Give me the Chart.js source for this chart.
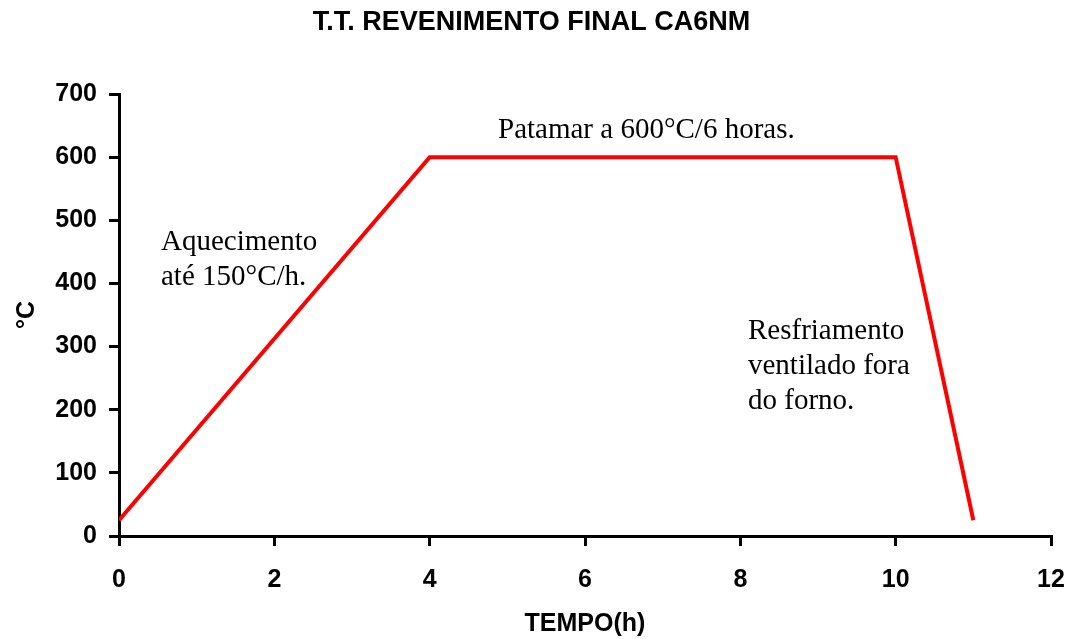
<!DOCTYPE html>
<html>
<head>
<meta charset="utf-8">
<script src="https://cdn.jsdelivr.net/npm/chart.js@4"></script>
<style>
  html, body { margin: 0; padding: 0; background: #fff; }
  #wrap { width: 1068px; height: 639px; }
</style>
</head>
<body>
<div id="wrap"><canvas id="chart"></canvas></div>
<script>
// heat treatment cycle: time (h) vs temperature (°C)
const tempo = [0, 4, 10, 11];
const temperatura = [25, 600, 600, 25];
const xTicks = [0, 2, 4, 6, 8, 10, 12];
const yTicks = [0, 100, 200, 300, 400, 500, 600, 700];

const notes = [
    { lines: ['Patamar a 600°C/6 horas.'], x: 498, y: 138 },
    { lines: ['Aquecimento', 'até 150°C/h.'], x: 161, y: 250 },
    { lines: ['Resfriamento', 'ventilado fora', 'do forno.'], x: 748, y: 339 }
];

const notesPlugin = {
    id: 'notes',
    afterDraw(chart) {
        const ctx = chart.ctx;
        ctx.save();
        ctx.fillStyle = '#000';
        ctx.font = '29px "Liberation Serif", "Times New Roman", serif';
        ctx.textAlign = 'left';
        ctx.textBaseline = 'alphabetic';
        notes.forEach(n => {
            n.lines.forEach((l, i) => ctx.fillText(l, n.x, n.y + i * 35));
        });
        ctx.restore();
    }
};

const sans = '"Liberation Sans", Arial, sans-serif';

new Chart(document.getElementById('chart').getContext('2d'), {
    type: 'line',
    data: {
        datasets: [{
            data: tempo.map((t, i) => ({ x: t, y: temperatura[i] })),
            borderColor: '#ff0000',
            borderWidth: 4,
            pointRadius: 0,
            fill: false,
            tension: 0
        }]
    },
    options: {
        responsive: true,
        maintainAspectRatio: false,
        animation: false,
        layout: { padding: { left: 12, right: 17, top: 0, bottom: 0 } },
        plugins: {
            legend: { display: false },
            tooltip: { enabled: false },
            title: {
                display: true,
                text: 'T.T. REVENIMENTO FINAL CA6NM',
                color: '#000',
                font: { family: sans, size: 27, weight: 'bold' },
                padding: { top: 6, bottom: 55.6 }
            }
        },
        scales: {
            x: {
                type: 'linear',
                min: 0,
                max: 12,
                afterBuildTicks: s => { s.ticks = xTicks.map(v => ({ value: v })); },
                afterFit: s => { s.height = 103; s.paddingLeft = 0; s.paddingRight = 0; },
                grid: { drawOnChartArea: false, color: '#000', lineWidth: 3, tickLength: 10 },
                border: { color: '#000', width: 3 },
                ticks: { color: '#000', font: { family: sans, size: 25, weight: 'bold' }, padding: 19, maxRotation: 0 },
                title: {
                    display: true,
                    text: 'TEMPO(h)',
                    color: '#000',
                    font: { family: sans, size: 25, weight: 'bold' },
                    padding: { top: 0, bottom: 0 }
                }
            },
            y: {
                min: 0,
                max: 700,
                afterBuildTicks: s => { s.ticks = yTicks.map(v => ({ value: v })); },
                afterFit: s => { s.width = 107; s.paddingTop = 0; s.paddingBottom = 0; },
                grid: { drawOnChartArea: false, color: '#000', lineWidth: 3, tickLength: 10 },
                border: { color: '#000', width: 3 },
                ticks: { color: '#000', font: { family: sans, size: 25, weight: 'bold' }, padding: 12 },
                title: {
                    display: true,
                    text: '°C',
                    color: '#000',
                    font: { family: sans, size: 25, weight: 'bold' },
                    padding: { top: 0, bottom: 0 }
                }
            }
        }
    },
    plugins: [notesPlugin]
});
</script>
</body>
</html>
